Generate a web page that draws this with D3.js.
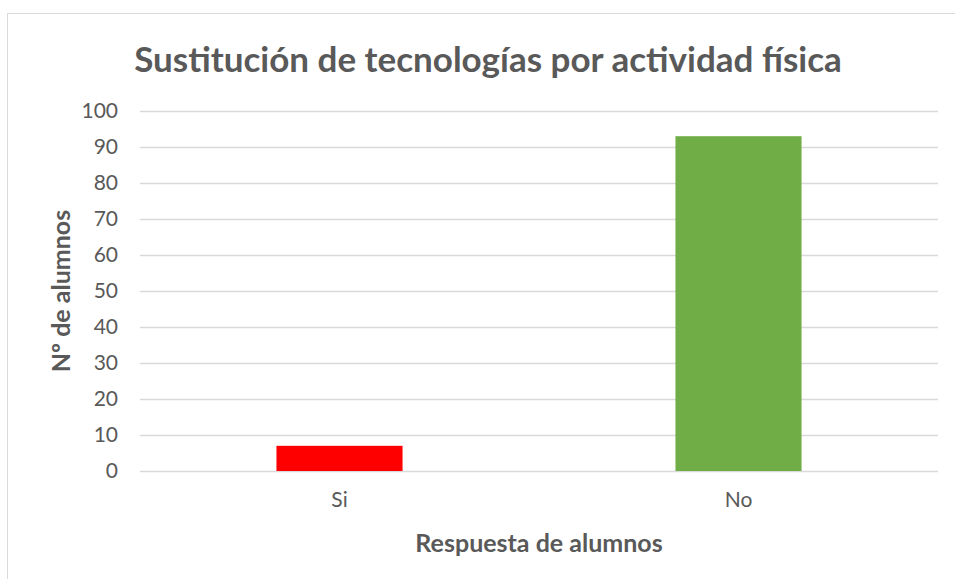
<!DOCTYPE html>
<html>
<head>
<meta charset="utf-8">
<script src="https://cdn.jsdelivr.net/npm/d3@7"></script>
<style>
  body { margin: 0; background: #fff; }
  text { font-family: Lato, "Open Sans", sans-serif; fill: #595959; }
</style>
</head>
<body>
<script>
var svgwidth = 955,
    svgheight = 579;

//Data
var categories = ["Si", "No"];
var values = [7, 93];
var barColors = ["#ff0000", "#70ad47"];
var yTicks = [0, 10, 20, 30, 40, 50, 60, 70, 80, 90, 100];

var svg = d3.select("body").append("svg")
    .attr("width", svgwidth)
    .attr("height", svgheight);

//Chart border
svg.append("rect")
    .attr("x", 7.5).attr("y", 13.5)
    .attr("width", 960).attr("height", 600)
    .attr("fill", "none")
    .attr("stroke", "#d9d9d9");

var margin = {top: 111, right: 17, bottom: 108, left: 140},
    width = svgwidth - margin.left - margin.right,
    height = svgheight - margin.top - margin.bottom;

var g = svg.append("g")
    .attr("transform", "translate(" + margin.left + "," + margin.top + ")");

var x = d3.scaleBand().domain(categories).range([0, width])
    .paddingInner(0.684).paddingOuter(0.342),
    y = d3.scaleLinear().domain([0, 100]).range([height, 0]);

//Gridlines
g.selectAll(".grid")
    .data(yTicks)
    .enter().append("line")
      .attr("x1", 0).attr("x2", width)
      .attr("y1", function(d) { return y(d) + 0.5; })
      .attr("y2", function(d) { return y(d) + 0.5; })
      .attr("stroke", "#d9d9d9")
      .attr("stroke-width", 1.3);

//Bars
g.selectAll(".bar")
    .data(values)
    .enter().append("rect")
      .attr("x", function(d, i) { return x(categories[i]); })
      .attr("y", function(d) { return y(d); })
      .attr("width", x.bandwidth())
      .attr("height", function(d) { return height - y(d); })
      .attr("fill", function(d, i) { return barColors[i]; });

//Y axis
var yAxis = g.append("g")
    .call(d3.axisLeft(y).tickValues(yTicks).tickSize(0).tickPadding(22));
yAxis.select(".domain").remove();
yAxis.selectAll("text").style("font-size", "21px").attr("fill", "#595959");

//X axis
var xAxis = g.append("g")
    .attr("transform", "translate(0," + height + ")")
    .call(d3.axisBottom(x).tickSize(0).tickPadding(21));
xAxis.select(".domain").remove();
xAxis.selectAll("text").style("font-size", "21px").attr("fill", "#595959");

//Title
svg.append("text")
    .attr("x", 488).attr("y", 72)
    .attr("text-anchor", "middle")
    .style("font-size", "35px")
    .style("font-weight", "bold")
    .text("Sustitución de tecnologías por actividad física");

//Axis titles
svg.append("text")
    .attr("x", 539).attr("y", 552)
    .attr("text-anchor", "middle")
    .style("font-size", "25px")
    .style("font-weight", "bold")
    .text("Respuesta de alumnos");

svg.append("text")
    .attr("transform", "translate(70,291) rotate(-90)")
    .attr("text-anchor", "middle")
    .style("font-size", "25px")
    .style("font-weight", "bold")
    .text("Nº de alumnos");
</script>
</body>
</html>
